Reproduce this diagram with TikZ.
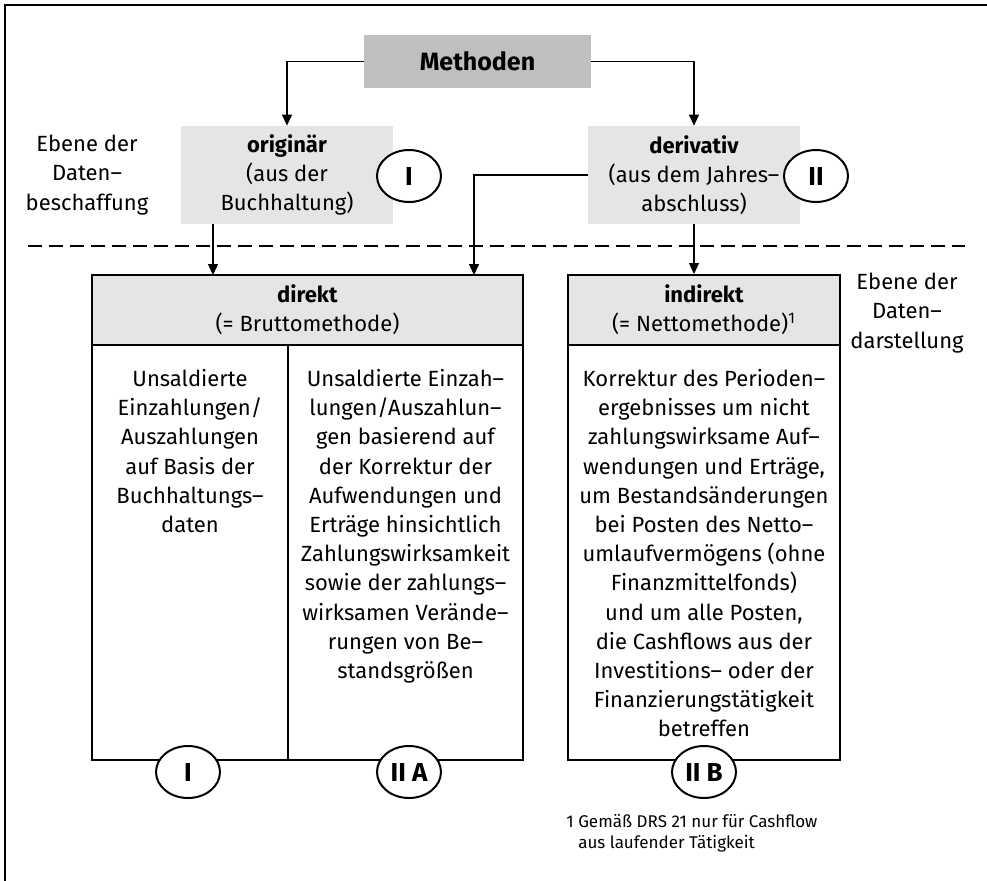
\documentclass[tikz,border=0pt]{standalone}
\usepackage{fontspec}
\setmainfont{Fira Sans}
\usetikzlibrary{arrows.meta,shapes.geometric}

\tikzset{
  topbox/.style={fill=black!25, minimum width=113.5pt, minimum height=26.5pt, inner sep=0pt, font=\fontsize{12.5}{15}\selectfont\bfseries},
  srcbox/.style={fill=black!10, minimum width=106pt, minimum height=49pt, align=center, inner sep=0pt},
  headbox/.style={draw, line width=1pt, fill=black!10, minimum height=35pt, align=center, inner sep=0pt},
  bodybox/.style={draw, line width=1pt, minimum height=207.5pt, inner sep=0pt},
  bodytext/.style={anchor=north, align=center, inner sep=0pt},
  tag/.style={ellipse, draw, line width=1pt, fill=white, minimum width=32pt, minimum height=26pt, inner sep=0pt, font=\fontsize{13}{15}\selectfont\bfseries},
  arr/.style={-{Triangle[width=5pt,length=5.5pt]}, line width=0.65pt},
}

\begin{document}
\begin{tikzpicture}[x=0.5pt, y=-0.5pt, font=\fontsize{11}{14.6}\selectfont]
\useasboundingbox (0,0) rectangle (987,880);
\draw[line width=0.75pt] (5,890) -- (5,5) -- (997,5);

% Ebene der Datenbeschaffung
\node[topbox] (meth) at (477.5,61.5) {Methoden};
\node[srcbox] (orig) at (287,175) {\textbf{originär}\\(aus der\\Buchhaltung)};
\node[srcbox] (deriv) at (694,175) {\textbf{derivativ}\\(aus dem Jahres–\\abschluss)};
\node[tag] (tagI) at (409,176) {I};
\node[tag] (tagII) at (816,176) {II};

\node[align=center] (lvlA) at (87,175) {Ebene der\\Daten–\\beschaffung};
\node[align=center] (lvlB) at (907,313) {Ebene der\\Daten–\\darstellung};

\draw[line width=0.75pt, dash pattern=on 7pt off 3.5pt] (28,246) -- (965,246);

% Ebene der Datendarstellung
\node[headbox, minimum width=215.5pt] (dirhead) at (307.5,310) {\textbf{direkt}\\(= Bruttomethode)};
\node[headbox, minimum width=136pt] (indhead) at (704,310) {\textbf{indirekt}\\(= Nettomethode)\textsuperscript{1}};
\node[bodybox, minimum width=98pt] (dirI) at (190,552.5) {};
\node[bodybox, minimum width=117.5pt] (dirII) at (405.5,552.5) {};
\node[bodybox, minimum width=136pt] (ind) at (704,552.5) {};

\node[bodytext] (txtI) at (190,369) {Unsaldierte\\Einzahlungen/\\Auszahlungen\\auf Basis der\\Buchhaltungs–\\daten};
\node[bodytext] (txtII) at (405.5,369) {Unsaldierte Einzah–\\lungen/Auszahlun–\\gen basierend auf\\der Korrektur der\\Aufwendungen und\\Erträge hinsichtlich\\Zahlungswirksamkeit\\sowie der zahlungs–\\wirksamen Verände–\\rungen von Be–\\standsgrößen};
\node[bodytext] (txtInd) at (704,369) {Korrektur des Perioden–\\ergebnisses um nicht\\zahlungswirksame Auf–\\wendungen und Erträge,\\um Bestandsänderungen\\bei Posten des Netto–\\umlaufvermögens (ohne\\Finanzmittelfonds)\\und um alle Posten,\\die Cashflows aus der\\Investitions– oder der\\Finanzierungstätigkeit\\betreffen};

\node[tag] (tagIb) at (188,772) {I};
\node[tag] (tagIIA) at (409,772) {II A};
\node[tag] (tagIIB) at (704,772) {II B};

\node[anchor=north west, align=left, inner sep=0pt, font=\fontsize{8.5}{10.5}\selectfont] (note) at (566,814) {1 Gemäß DRS 21 nur für Cashflow\\\phantom{1 }aus laufender Tätigkeit};

% Verbindungen
\coordinate (dirL) at (213,275);
\coordinate (dirR) at (474,275);
\draw[arr] (meth.west) -| (orig.north);
\draw[arr] (meth.east) -| (deriv.north);
\draw[arr] (orig.south -| dirL) -- (dirL);
\draw[arr] (deriv.west) -| (dirR);
\draw[arr] (deriv.south) -- (deriv.south |- indhead.north);
\end{tikzpicture}
\end{document}
